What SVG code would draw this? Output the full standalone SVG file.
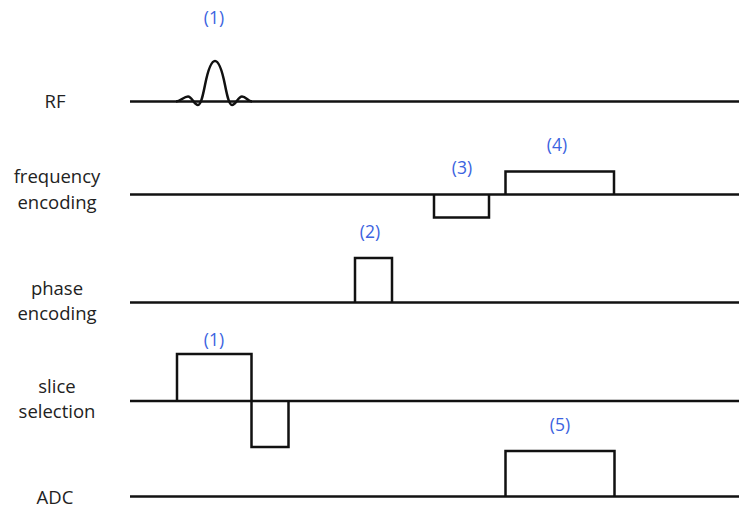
<svg xmlns="http://www.w3.org/2000/svg" width="739" height="511" viewBox="0 0 739 511">
<style>
.ax{stroke:#111;stroke-width:2.5;fill:none}
.pl{stroke:#111;stroke-width:2.5;fill:none;stroke-linejoin:miter}
.lb{font-family:"Open Sans","Liberation Sans",sans-serif;font-size:18.5px;fill:#222;text-anchor:middle}
.nm{font-family:"Open Sans","Liberation Sans",sans-serif;font-size:17.5px;fill:#3b63e0;text-anchor:middle}
</style>
<rect width="739" height="511" fill="#fff"/>
<g id="labels">
<text class="lb" x="55" y="107.5">RF</text>
<text class="lb" x="57" y="182.5">frequency</text>
<text class="lb" x="57" y="208.5">encoding</text>
<text class="lb" x="57" y="294.5">phase</text>
<text class="lb" x="57" y="319.5">encoding</text>
<text class="lb" x="57" y="392.5">slice</text>
<text class="lb" x="57" y="417.5">selection</text>
<text class="lb" x="55" y="503.5">ADC</text>
</g>
<g id="connectors">
<line class="ax" x1="130" y1="101.5" x2="739" y2="101.5"/>
<line class="ax" x1="130" y1="194.5" x2="739" y2="194.5"/>
<line class="ax" x1="130" y1="302.5" x2="739" y2="302.5"/>
<line class="ax" x1="130" y1="401" x2="739" y2="401"/>
<line class="ax" x1="130" y1="496.5" x2="739" y2="496.5"/>
</g>
<g id="rf">
<path class="pl" d="M176,101.5 C180,101.5 184,96.5 188,96.5 C192,96.5 194,105 198,105 C201,105 203,95 205,85 C208,70 211,61 215,61 C219,61 222,70 225,85 C227,95 229,105 232,105 C236,105 238,96.5 242,96.5 C246,96.5 248,101.5 252,101.5"/>
<text class="nm" x="214" y="24">(1)</text>
</g>
<g id="freq">
<path class="pl" d="M434,194.5 V217.5 H489 V194.5"/>
<path class="pl" d="M505.5,194.5 V171.5 H614 V194.5"/>
<text class="nm" x="462" y="174">(3)</text>
<text class="nm" x="557" y="151">(4)</text>
</g>
<g id="phase">
<path class="pl" d="M355,302.5 V258 H392 V302.5"/>
<text class="nm" x="370" y="238">(2)</text>
</g>
<g id="slice">
<path class="pl" d="M177,401 V354 H251.5 V447 H288.5 V401"/>
<text class="nm" x="214" y="346">(1)</text>
</g>
<g id="adc">
<path class="pl" d="M505.5,496.5 V451 H614.5 V496.5"/>
<text class="nm" x="560" y="431">(5)</text>
</g>
</svg>
